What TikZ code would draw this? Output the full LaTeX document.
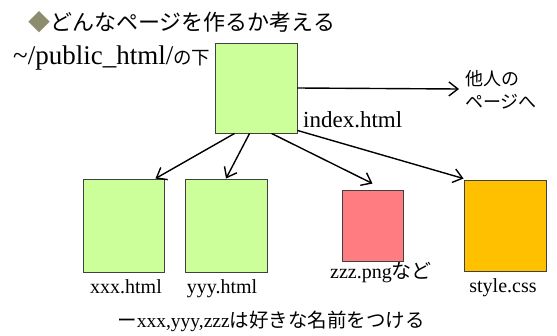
\documentclass[tikz,border=0pt]{standalone}
\usepackage{fontspec}
\setmainfont{Liberation Serif}
\newfontfamily\jp{Noto Sans CJK JP}
\usetikzlibrary{arrows.meta, positioning}

\definecolor{pagegreen}{RGB}{204,255,153}
\definecolor{imagered}{RGB}{255,124,128}
\definecolor{cssorange}{RGB}{255,192,0}
\definecolor{bulletgray}{RGB}{140,140,110}

\newcommand{\sz}[2]{\fontsize{#1}{#2}\selectfont}

\tikzset{
	file/.style = {draw = black!75, line width = 0.9pt, inner sep = 0pt, minimum width = 82pt, minimum height = 93pt},
	arw/.style = {line width = 1.4pt, -{Straight Barb[length = 9pt, width = 14pt]}},
	filename/.style = {inner sep = 0pt, anchor = base}
}

\begin{document}
\begin{tikzpicture}[x = 1pt, y = -1pt]

	\useasboundingbox (0, 0) rectangle (557, 335);

	% Title

	\node (title) [inner sep = 0pt, anchor = west] at (28, 22) {\jp\sz{22}{26}{\color{bulletgray}◆}どんなページを作るか考える};

	\node (dir) [filename, anchor = base west] at (13, 64) {\sz{27}{30}\textasciitilde/public\_html/{\jp\sz{18.5}{22}の下}};

	% Files

	\node (index) [file, fill = pagegreen, minimum height = 90pt] at (256, 88) {};

	\node (xxx) [file, fill = pagegreen, minimum width = 81pt] at (123.5, 225.5) {};
	\node (yyy) [file, fill = pagegreen] at (226, 225.5) {};
	\node (zzz) [file, fill = imagered, minimum width = 61pt, minimum height = 71pt] at (372.5, 225.5) {};
	\node (css) [file, fill = cssorange, minimum height = 91pt] at (505, 225.5) {};

	% Labels

	\node (indexname) [filename, anchor = base west] at (303, 127) {\sz{23}{27}index.html};
	\node (xxxname) [filename] at (126, 293) {\sz{20}{24}xxx.html};
	\node (yyyname) [filename] at (222, 293) {\sz{20}{24}yyy.html};
	\node (zzzname) [filename] at (381, 278) {\sz{20}{24}zzz.png{\jp など}};
	\node (cssname) [filename] at (503, 292) {\sz{20}{24}style.css};

	\node (others) [inner sep = 0pt, anchor = west, align = left, font = \jp\sz{18}{23}] at (465, 90) {他人の\\ページへ};

	\node (note) [filename] at (271, 327) {\sz{19.5}{24}{\jp ー}xxx,yyy,zzz{\jp は好きな名前をつける}};

	% Arrows

	\coordinate (otherstip) at (459, 89);

	\draw [arw] (index.east) -- (otherstip);
	\draw [arw] ([xshift = 20pt] index.south west) -- ([xshift = -9pt] xxx.north east);
	\draw [arw] ([xshift = 35pt] index.south west) -- (yyy.north);
	\draw [arw] ([xshift = 57pt] index.south west) -- ([yshift = 6pt] zzz.north);
	\draw [arw] ([yshift = 3pt] index.south east) -- ([yshift = 1pt] css.north west);

\end{tikzpicture}
\end{document}
